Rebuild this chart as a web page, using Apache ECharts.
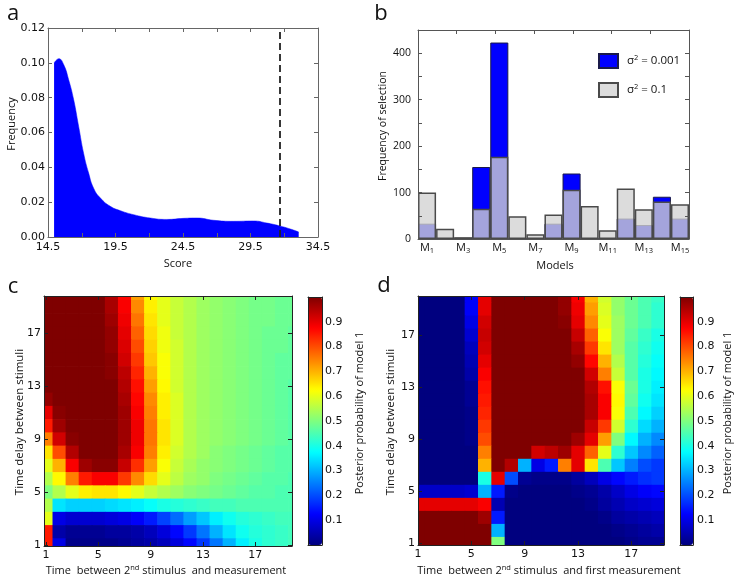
<!DOCTYPE html>
<html><head><meta charset="utf-8">
<script src="https://cdn.jsdelivr.net/npm/echarts@6/dist/echarts.min.js"></script>
<style>html,body{margin:0;padding:0;background:#fff}#chart{width:736px;height:579px}</style>
</head><body><div id="chart"></div>
<script>
// ---------- Panel a: score density ----------
const scoreX = [14.95, 15.3, 15.66, 16.03, 16.4, 16.77, 17.14, 17.51, 17.88, 18.38, 19.12, 19.86, 20.85, 22.08, 23.3, 24.55, 25.54, 26.77, 28.25, 29.73, 30.72, 31.6, 32.45, 33.07];
const scoreFreq = [0.0999, 0.1024, 0.099, 0.0903, 0.0789, 0.0635, 0.048, 0.0367, 0.028, 0.0224, 0.0176, 0.0151, 0.0128, 0.0109, 0.0101, 0.0107, 0.0109, 0.0096, 0.009, 0.0092, 0.008, 0.0065, 0.0046, 0.0029];
const observedScore = 31.64;
const scoreTicks = [14.5, 19.5, 24.5, 29.5, 34.5];

// ---------- Panel b: model selection ----------
const modelIds = [1, 2, 3, 4, 5, 6, 7, 8, 9, 10, 11, 12, 13, 14, 15];
const selLowNoise = [33, 0, 0, 155, 423, 0, 0, 33, 141, 0, 0, 44, 30, 91, 44];
const selHighNoise = [100, 22, 4, 65, 177, 49, 10, 53, 106, 71, 19, 109, 64, 81, 75];

// ---------- Panels c, d: posterior probability grids (rows: delay 20 -> 1, cols: time 1 -> 20) ----------
const heatTicks = [1, 5, 9, 13, 17];
const colorTicks = [0.1, 0.2, 0.3, 0.4, 0.5, 0.6, 0.7, 0.8, 0.9];
const gridC = [
  [1,1,1,1,1,0.95,0.87,0.72,0.63,0.6,0.57,0.55,0.53,0.52,0.51,0.5,0.49,0.49,0.48,0.48],
  [1,1,1,1,1,0.96,0.88,0.74,0.64,0.6,0.57,0.55,0.53,0.52,0.51,0.5,0.49,0.49,0.48,0.48],
  [1,1,1,1,1,0.97,0.89,0.76,0.65,0.6,0.57,0.55,0.53,0.52,0.51,0.5,0.49,0.49,0.48,0.48],
  [1,1,1,1,1,0.98,0.9,0.78,0.66,0.61,0.57,0.55,0.53,0.52,0.51,0.5,0.49,0.48,0.48,0.47],
  [1,1,1,1,1,0.98,0.91,0.8,0.67,0.61,0.58,0.55,0.53,0.52,0.51,0.5,0.49,0.48,0.48,0.47],
  [1,1,1,1,1,0.99,0.92,0.82,0.68,0.62,0.58,0.55,0.53,0.52,0.51,0.5,0.49,0.48,0.47,0.47],
  [1,1,1,1,1,0.99,0.94,0.84,0.7,0.62,0.58,0.55,0.53,0.52,0.51,0.5,0.49,0.48,0.47,0.47],
  [1,1,1,1,1,1,0.95,0.86,0.72,0.63,0.58,0.55,0.53,0.52,0.51,0.5,0.49,0.48,0.47,0.46],
  [0.98,1,1,1,1,1,0.96,0.87,0.74,0.64,0.59,0.55,0.53,0.52,0.51,0.5,0.49,0.48,0.47,0.46],
  [0.9,0.99,1,1,1,1,0.97,0.88,0.75,0.64,0.59,0.55,0.53,0.52,0.51,0.5,0.49,0.48,0.47,0.46],
  [0.85,0.97,1,1,1,1,0.97,0.89,0.76,0.65,0.59,0.55,0.53,0.52,0.51,0.5,0.49,0.48,0.47,0.46],
  [0.75,0.92,0.99,1,1,1,0.97,0.89,0.76,0.65,0.59,0.55,0.53,0.52,0.51,0.5,0.49,0.48,0.47,0.46],
  [0.65,0.8,0.95,1,1,1,0.96,0.88,0.75,0.64,0.58,0.55,0.53,0.51,0.5,0.49,0.48,0.47,0.46,0.46],
  [0.6,0.7,0.88,0.97,0.99,0.99,0.93,0.83,0.72,0.62,0.57,0.54,0.52,0.51,0.5,0.49,0.48,0.47,0.46,0.46],
  [0.55,0.63,0.75,0.85,0.88,0.88,0.82,0.74,0.66,0.6,0.56,0.53,0.52,0.5,0.49,0.48,0.47,0.46,0.46,0.45],
  [0.5,0.55,0.6,0.64,0.65,0.65,0.63,0.6,0.57,0.55,0.53,0.51,0.5,0.49,0.48,0.47,0.46,0.46,0.45,0.45],
  [0.55,0.35,0.33,0.33,0.33,0.34,0.35,0.36,0.38,0.4,0.41,0.42,0.43,0.44,0.44,0.45,0.45,0.45,0.45,0.45],
  [0.6,0.1,0.08,0.08,0.08,0.09,0.1,0.12,0.15,0.19,0.23,0.28,0.32,0.36,0.39,0.41,0.42,0.43,0.44,0.44],
  [0.85,0.04,0.02,0.02,0.02,0.03,0.03,0.04,0.06,0.09,0.13,0.18,0.24,0.3,0.35,0.39,0.41,0.42,0.43,0.44],
  [0.85,0.1,0.01,0.01,0.01,0.01,0.02,0.03,0.04,0.06,0.09,0.13,0.18,0.24,0.3,0.36,0.4,0.42,0.43,0.44]
];
const gridD = [
  [0,0,0,0,0.12,0.9,1,1,1,1,1,0.98,0.88,0.7,0.58,0.52,0.48,0.45,0.43,0.42],
  [0,0,0,0,0.12,0.9,1,1,1,1,1,0.98,0.89,0.72,0.59,0.52,0.48,0.45,0.42,0.41],
  [0,0,0,0,0.1,0.92,1,1,1,1,1,0.99,0.9,0.74,0.6,0.53,0.48,0.45,0.42,0.41],
  [0,0,0,0,0.08,0.93,1,1,1,1,1,1,0.93,0.78,0.62,0.53,0.47,0.43,0.4,0.39],
  [0,0,0,0,0.06,0.92,1,1,1,1,1,1,0.96,0.82,0.65,0.53,0.46,0.42,0.39,0.38],
  [0,0,0,0,0.05,0.9,1,1,1,1,1,1,0.98,0.87,0.7,0.55,0.46,0.41,0.38,0.37],
  [0,0,0,0,0.04,0.88,1,1,1,1,1,1,1,0.92,0.75,0.57,0.46,0.4,0.37,0.36],
  [0,0,0,0,0.02,0.86,1,1,1,1,1,1,1,0.95,0.86,0.62,0.48,0.4,0.36,0.35],
  [0,0,0,0,0.02,0.85,1,1,1,1,1,1,1,0.96,0.88,0.63,0.47,0.39,0.35,0.34],
  [0,0,0,0,0.01,0.84,1,1,1,1,1,1,1,0.96,0.88,0.62,0.45,0.37,0.33,0.32],
  [0,0,0,0,0.01,0.82,1,1,1,1,1,1,1,0.93,0.82,0.58,0.42,0.34,0.3,0.29],
  [0,0,0,0,0.01,0.8,1,1,1,1,1,1,0.97,0.9,0.72,0.5,0.37,0.3,0.26,0.24],
  [0,0,0,0,0,0.75,1,1,1,0.92,0.94,0.97,0.9,0.78,0.6,0.42,0.32,0.26,0.22,0.2],
  [0,0,0,0,0,0.7,1,0.95,0.3,0.1,0.15,0.75,0.9,0.65,0.45,0.32,0.25,0.2,0.18,0.17],
  [0,0,0,0,0,0.4,0.9,0.2,0.02,0.01,0.01,0.01,0.03,0.06,0.1,0.13,0.15,0.17,0.18,0.18],
  [0.07,0.07,0.07,0.07,0.08,0.3,0.15,0.01,0,0,0,0,0.01,0.02,0.04,0.07,0.1,0.12,0.13,0.13],
  [0.9,0.9,0.9,0.9,0.9,0.88,0.05,0,0,0,0,0,0,0.01,0.03,0.05,0.07,0.08,0.09,0.09],
  [1,1,1,1,1,0.97,0.15,0,0,0,0,0,0,0,0.01,0.03,0.04,0.05,0.06,0.06],
  [1,1,1,1,1,1,0.3,0,0,0,0,0,0,0,0,0.01,0.02,0.03,0.04,0.04],
  [1,1,1,1,1,1,0.5,0,0,0,0,0,0,0,0,0,0.01,0.02,0.02,0.03]
];
const jet = ['#00007f', '#0000ff', '#007fff', '#00ffff', '#7fff7f', '#ffff00', '#ff7f00', '#ff0000', '#7f0000'];

// ---------- helpers ----------
function toCells(rows) {
  const out = [];
  const n = rows.length;
  rows.forEach((row, i) => row.forEach((val, j) => out.push([j + 1, n - i, val])));
  return out;
}
function cellRender(params, api) {
  const x = api.value(0), y = api.value(1);
  const p0 = api.coord([x - 0.5, y + 0.5]);
  const p1 = api.coord([x + 0.5, y - 0.5]);
  const cs = params.coordSys;
  const r = echarts.graphic.clipRectByRect(
    { x: p0[0], y: p0[1], width: p1[0] - p0[0] + 0.7, height: p1[1] - p0[1] + 0.7 },
    { x: cs.x, y: cs.y, width: cs.width, height: cs.height });
  if (!r) return null;
  return { type: 'rect', shape: r, style: { fill: api.visual('color') } };
}
const TICKF = 'DejaVu Sans';
const TITLEF = 'Open Sans';
function edgeAxis(kind, grid, pos, color, extra) {
  const base = {
    gridIndex: grid, position: pos, z: 10,
    axisLine: { show: true, onZero: false, lineStyle: { color: color, width: 1 } },
    axisTick: { show: false },
    axisLabel: { show: false },
    splitLine: { show: false }
  };
  return Object.assign(base, extra || {});
}
const tickInside = (color, len, custom) => {
  const t = { show: true, inside: true, length: len, lineStyle: { color: color, width: 1 } };
  if (custom) t.customValues = custom;
  return t;
};

const sub = { fontSize: 7.5, lineHeight: 7, verticalAlign: 'bottom', fontFamily: TITLEF, color: '#111' };
const sup = { fontSize: 7.5, lineHeight: 7, verticalAlign: 'top', fontFamily: TITLEF, color: '#111' };

const cA = '#666', cB = '#555', cH = '#222';
const xAxes = [
  // a
  edgeAxis('x', 0, 'bottom', cA, { type: 'value', min: 14.5, max: 34.5, interval: 2.5,
    axisTick: tickInside(cA, 4),
    axisLabel: { show: true, margin: 5, fontFamily: TICKF, fontSize: 11, color: '#111',
      customValues: scoreTicks, formatter: v => v.toFixed(1) } }),
  edgeAxis('x', 0, 'top', cA, { type: 'value', min: 14.5, max: 34.5, interval: 2.5, axisTick: tickInside(cA, 4) }),
  // b
  edgeAxis('x', 1, 'bottom', cB, { type: 'category', data: modelIds,
    axisLabel: { show: true, interval: 1, margin: 2, formatter: v => '{m|M}{s|' + v + '}',
      rich: { m: { fontSize: 11, lineHeight: 14, fontFamily: TITLEF, color: '#111' }, s: sub } } }),
  edgeAxis('x', 1, 'top', cB, { type: 'value', min: 0, max: 7, interval: 1, axisTick: tickInside(cB, 4) }),
  // c
  edgeAxis('x', 2, 'bottom', cH, { type: 'value', min: 0.85, max: 19.8,
    axisTick: tickInside(cH, 4, heatTicks),
    axisLabel: { show: true, margin: 4, fontFamily: TICKF, fontSize: 11, color: '#111', customValues: heatTicks } }),
  edgeAxis('x', 2, 'top', cH, { type: 'value', min: 0.85, max: 19.8, axisTick: tickInside(cH, 4, heatTicks) }),
  // c colorbar
  edgeAxis('x', 3, 'bottom', cH, { type: 'value', min: 0, max: 1 }),
  edgeAxis('x', 3, 'top', cH, { type: 'value', min: 0, max: 1 }),
  // d
  edgeAxis('x', 4, 'bottom', cH, { type: 'value', min: 1, max: 19.45,
    axisTick: tickInside(cH, 4, heatTicks),
    axisLabel: { show: true, margin: 4, fontFamily: TICKF, fontSize: 11, color: '#111', customValues: heatTicks } }),
  edgeAxis('x', 4, 'top', cH, { type: 'value', min: 1, max: 19.45, axisTick: tickInside(cH, 4, heatTicks) }),
  // d colorbar
  edgeAxis('x', 5, 'bottom', cH, { type: 'value', min: 0, max: 1 }),
  edgeAxis('x', 5, 'top', cH, { type: 'value', min: 0, max: 1 })
];
const yAxes = [
  // a
  edgeAxis('y', 0, 'left', cA, { type: 'value', min: 0, max: 0.12, interval: 0.02,
    axisTick: tickInside(cA, 4),
    axisLabel: { show: true, margin: 3, fontFamily: TICKF, fontSize: 11, color: '#111', formatter: v => v.toFixed(2) } }),
  edgeAxis('y', 0, 'right', cA, { type: 'value', min: 0, max: 0.12, interval: 0.02, axisTick: tickInside(cA, 4) }),
  // b
  edgeAxis('y', 1, 'left', cB, { type: 'value', min: 0, max: 450, interval: 50,
    axisTick: tickInside(cB, 4),
    axisLabel: { show: true, margin: 7, fontFamily: TITLEF, fontSize: 10.5, color: '#111',
      formatter: v => (v % 100 === 0 ? String(v) : '') } }),
  edgeAxis('y', 1, 'right', cB, { type: 'value', min: 0, max: 450, interval: 50, axisTick: tickInside(cB, 4) }),
  // c
  edgeAxis('y', 2, 'left', cH, { type: 'value', min: 0.92, max: 19.8,
    axisTick: tickInside(cH, 4, heatTicks),
    axisLabel: { show: true, margin: 3, fontFamily: TICKF, fontSize: 11, color: '#111', customValues: heatTicks } }),
  edgeAxis('y', 2, 'right', cH, { type: 'value', min: 0.92, max: 19.8, axisTick: tickInside(cH, 4, heatTicks) }),
  // c colorbar
  edgeAxis('y', 3, 'left', cH, { type: 'value', min: 0, max: 1 }),
  edgeAxis('y', 3, 'right', cH, { type: 'value', min: 0, max: 1,
    axisLabel: { show: true, margin: 3, fontFamily: TICKF, fontSize: 11, color: '#111',
      customValues: colorTicks, formatter: v => v.toFixed(1) } }),
  // d
  edgeAxis('y', 4, 'left', cH, { type: 'value', min: 0.88, max: 20,
    axisTick: tickInside(cH, 4, heatTicks),
    axisLabel: { show: true, margin: 3, fontFamily: TICKF, fontSize: 11, color: '#111', customValues: heatTicks } }),
  edgeAxis('y', 4, 'right', cH, { type: 'value', min: 0.88, max: 20, axisTick: tickInside(cH, 4, heatTicks) }),
  // d colorbar
  edgeAxis('y', 5, 'left', cH, { type: 'value', min: 0, max: 1 }),
  edgeAxis('y', 5, 'right', cH, { type: 'value', min: 0, max: 1,
    axisLabel: { show: true, margin: 4, fontFamily: TICKF, fontSize: 11, color: '#111',
      customValues: colorTicks, formatter: v => v.toFixed(1) } })
];

const G = (l, t, w, h) => ({ left: l, top: t, width: w, height: h, containLabel: false, outerBoundsMode: 'none' });
const grids = [G(48, 28, 270, 209), G(418, 30, 271, 209), G(44, 296, 248, 250), G(308, 297, 14, 248), G(418, 296, 246, 249), G(680, 297, 13, 248)];

function txt(x, y, text, size, rot, rich) {
  return { type: 'text', x: x, y: y, rotation: rot || 0, z: 20,
    style: { text: text, fontSize: size, fontFamily: TITLEF, fill: '#111', align: 'center', verticalAlign: 'middle', rich: rich } };
}
const richTitle = (size) => ({ t: { fontSize: size, fontFamily: TITLEF, fill: '#111', lineHeight: 14, verticalAlign: 'middle' }, p: { fontSize: 7.5, fontFamily: TITLEF, fill: '#111', lineHeight: 7, verticalAlign: 'top' } });

const chart = echarts.init(document.getElementById('chart'), null, { renderer: 'canvas' });
chart.setOption({
  animation: false,
  backgroundColor: '#fff',
  grid: grids,
  xAxis: xAxes,
  yAxis: yAxes,
  legend: {
    orient: 'vertical', left: 598, top: 53, itemWidth: 19, itemHeight: 14, itemGap: 13, padding: 0,
    icon: 'rect', data: ['s1', 's2'],
    formatter: n => (n === 's1' ? '{t|σ}{p|2}{t| = 0.001}' : '{t|σ}{p|2}{t| = 0.1}'),
    textStyle: { padding: [0, 0, 0, 4], rich: { t: { fontSize: 11.5, fontFamily: TITLEF, color: '#111', lineHeight: 14, verticalAlign: 'middle' }, p: sup } }
  },
  visualMap: [
    { type: 'continuous', seriesIndex: 3, dimension: 2, min: 0, max: 1, calculable: false, orient: 'vertical',
      left: 308, top: 297, itemWidth: 14, itemHeight: 248, padding: 0, inRange: { color: jet }, hoverLink: false },
    { type: 'continuous', seriesIndex: 4, dimension: 2, min: 0, max: 1, calculable: false, orient: 'vertical',
      left: 680, top: 297, itemWidth: 13, itemHeight: 248, padding: 0, inRange: { color: jet }, hoverLink: false }
  ],
  series: [
    { type: 'line', xAxisIndex: 0, yAxisIndex: 0, data: scoreX.map((x, i) => [x, scoreFreq[i]]),
      smooth: 0.5, symbol: 'none', lineStyle: { width: 0.5, color: '#0000ff' },
      areaStyle: { color: '#0000ff', opacity: 1 },
      markLine: { silent: true, symbol: 'none', label: { show: false },
        lineStyle: { type: [7, 4], color: '#222', width: 1.8 }, data: [{ xAxis: observedScore }] } },
    { type: 'bar', name: 's1', xAxisIndex: 2, yAxisIndex: 2, data: selLowNoise, barGap: '-100%', barCategoryGap: '0%',
      itemStyle: { color: '#0000ff', borderColor: '#1a1a4a', borderWidth: 1 } },
    { type: 'bar', name: 's2', xAxisIndex: 2, yAxisIndex: 2, data: selHighNoise, barGap: '-100%', barCategoryGap: '0%',
      itemStyle: { color: 'rgba(210,210,210,0.78)', borderColor: '#4a4a4a', borderWidth: 1.5 } },
    { type: 'custom', xAxisIndex: 4, yAxisIndex: 4, data: toCells(gridC), renderItem: cellRender,
      encode: { x: 0, y: 1 }, z: 2 },
    { type: 'custom', xAxisIndex: 8, yAxisIndex: 8, data: toCells(gridD), renderItem: cellRender,
      encode: { x: 0, y: 1 }, z: 2 }
  ],
  graphic: [
    txt(13, 14, 'a', 22), txt(381, 14, 'b', 22), txt(13, 287, 'c', 22), txt(384, 286, 'd', 22),
    txt(12, 124, 'Frequency', 11, Math.PI / 2), txt(178, 264, 'Score', 11),
    txt(383, 126, 'Frequency of selection', 10.5, Math.PI / 2), txt(555, 266, 'Models', 11),
    txt(20, 422, 'Time delay between stimuli', 11.5, Math.PI / 2),
    txt(166, 571, '{t|Time  between 2}{p|nd}{t| stimulus  and measurement}', 11, 0, richTitle(11)),
    txt(360, 413, 'Posterior probability of model 1', 11, Math.PI / 2),
    txt(391, 422, 'Time delay between stimuli', 11.5, Math.PI / 2),
    txt(549, 571, '{t|Time  between 2}{p|nd}{t| stimulus  and first measurement}', 11, 0, richTitle(11)),
    txt(728, 413, 'Posterior probability of model 1', 11, Math.PI / 2)
  ]
});
</script></body></html>
